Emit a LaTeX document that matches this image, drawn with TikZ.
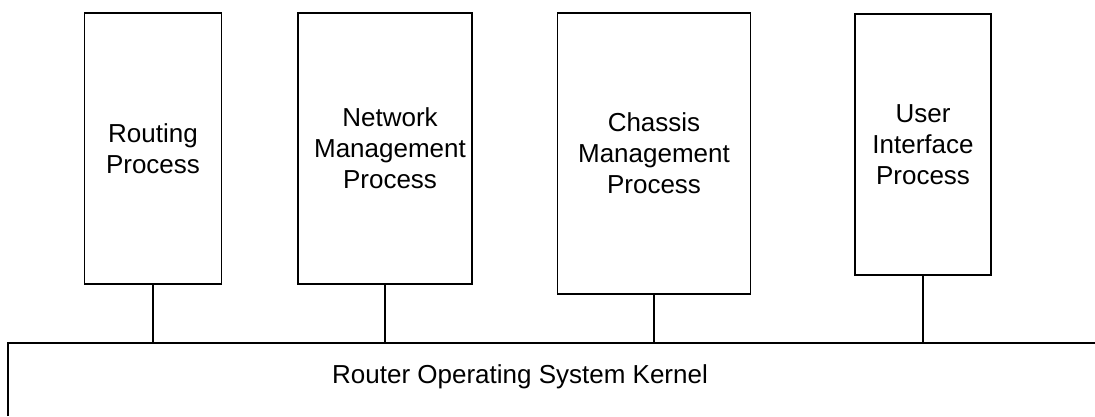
\documentclass[tikz,border=0pt]{standalone}
\usepackage{fontspec}
\setmainfont{Liberation Sans}
\begin{document}
\begin{tikzpicture}[x=1pt,y=-1pt,
  procbox/.style={draw, line width=1.6pt, rectangle, inner sep=0pt, align=center,
    font=\fontsize{26}{31}\selectfont},
  link/.style={line width=1.6pt},
  klabelstyle/.style={inner sep=0pt, font=\fontsize{26}{31}\selectfont}]
\useasboundingbox (0,0) rectangle (1095,416);
\node[procbox, minimum width=137pt, minimum height=271pt] (rout) at (153,148.5) {Routing\\Process};
\node[procbox, minimum width=174pt, minimum height=271pt] (netm) at (385,148.5) {\hspace*{10pt}Network\\\hspace*{10pt}Management\\\hspace*{10pt}Process};
\node[procbox, minimum width=193pt, minimum height=281pt] (chas) at (654,153.5) {Chassis\\Management\\Process};
\node[procbox, minimum width=136pt, minimum height=261pt] (user) at (923,144.5) {User\\Interface\\Process};
\node[inner sep=0pt, minimum width=1087pt, minimum height=73pt] (kernel) at (551.5,379.5) {};
\draw[link] (kernel.south west) -- (kernel.north west) -- (kernel.north east);
\node[klabelstyle] (klabel) at (520,377) {Router Operating System Kernel};
\foreach \b in {rout,netm,chas,user}{
  \draw[link] (\b.south) -- (\b.south |- kernel.north);
}
\end{tikzpicture}
\end{document}
